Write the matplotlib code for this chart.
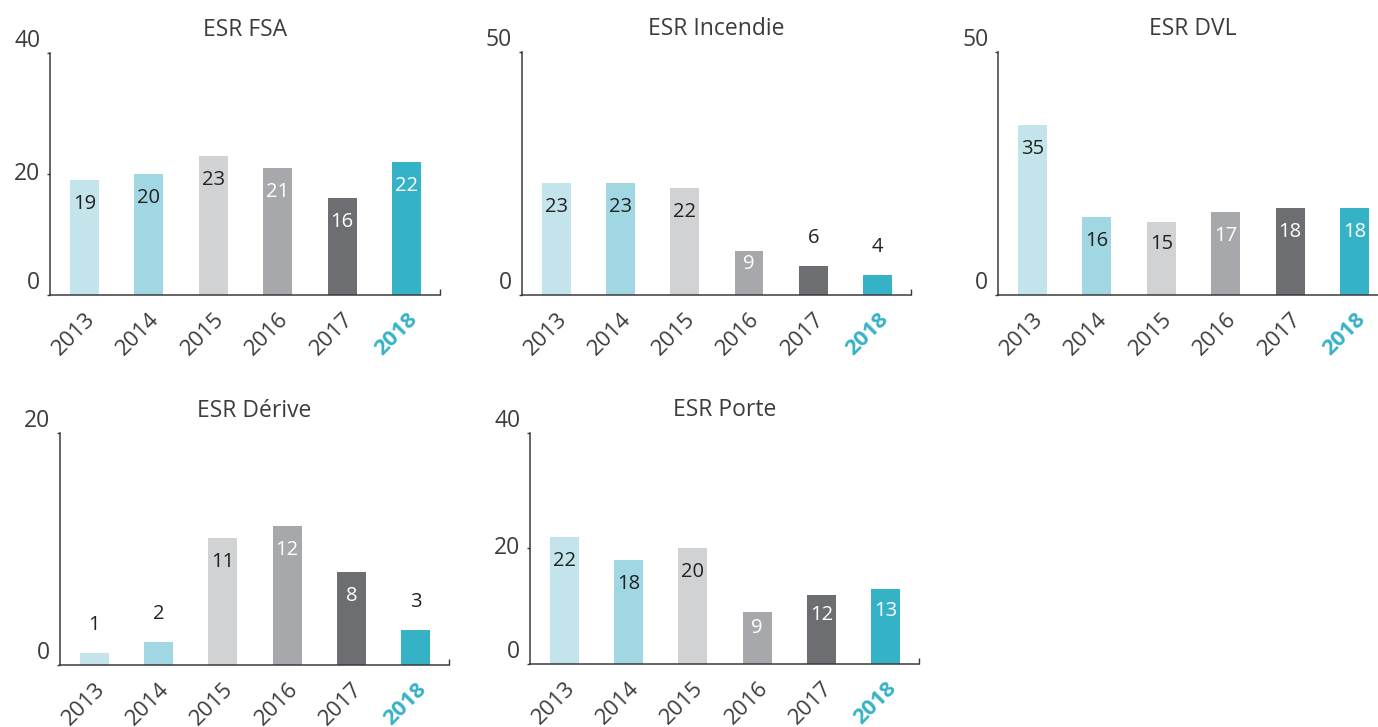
import matplotlib
matplotlib.use("Agg")
import matplotlib.pyplot as plt
from matplotlib import font_manager
from matplotlib.transforms import ScaledTranslation

# ---- data -------------------------------------------------------------
years = ["2013", "2014", "2015", "2016", "2017", "2018"]

titles = ["ESR FSA", "ESR Incendie", "ESR DVL", "ESR Dérive", "ESR Porte"]
fsa = [19, 20, 23, 21, 16, 22]
incendie = [23, 23, 22, 9, 6, 4]
dvl = [35, 16, 15, 17, 18, 18]
derive = [1, 2, 11, 12, 8, 3]
porte = [22, 18, 20, 9, 12, 13]

y_max = [40, 50, 50, 20, 40]
y_ticks = [[0, 20, 40], [0, 50], [0, 50], [0, 20], [0, 20, 40]]

# ---- style ------------------------------------------------------------
bar_colors = ["#c3e4eb", "#a1d7e2", "#d1d2d4", "#a7a8ab", "#6d6e71", "#36b2c7"]
inner_text = ["#222222", "#222222", "#222222", "white", "white", "white"]
highlight = "#36b2c7"
axis_color = "#3a3a3a"
text_color = "#3c3c3c"

available = {f.name for f in font_manager.fontManager.ttflist}
family = "Open Sans" if "Open Sans" in available else "DejaVu Sans"
plt.rcParams["font.family"] = family

W, H = 1378, 727
fig = plt.figure(figsize=(W / 100, H / 100), dpi=100, facecolor="white")

# panel boxes in pixels: left, top, right, bottom
boxes = [
    (50, 53, 440, 295),
    (521.7, 51.7, 911, 294.7),
    (998, 52, 1388, 295),
    (60, 433.3, 449, 665),
    (530, 432.7, 919, 664),
]
series = [fsa, incendie, dvl, derive, porte]
x_lim = (-0.535, 5.52)
positions = list(range(len(years)))

for title, values, ymax, yt, (l, t, r, b) in zip(titles, series, y_max, y_ticks, boxes):
    ax = fig.add_axes([l / W, 1 - b / H, (r - l) / W, (b - t) / H])
    ax.bar(positions, values, width=0.45, color=bar_colors, zorder=2)
    ax.set_xlim(*x_lim)
    ax.set_ylim(0, ymax)

    for side in ("top", "right"):
        ax.spines[side].set_visible(False)
    for side in ("left", "bottom"):
        ax.spines[side].set_color(axis_color)
        ax.spines[side].set_linewidth(1.1)

    # y axis ticks
    ax.set_yticks(yt)
    ax.set_yticklabels([str(v) for v in yt])
    ax.tick_params(axis="y", length=2, width=1.0, color=axis_color,
                   pad=5, labelsize=16.5, labelcolor=text_color)
    ylabels = ax.get_yticklabels()
    for k, lab in enumerate(ylabels):
        if k == 0 or k == len(ylabels) - 1:
            lab.set_verticalalignment("bottom")
        else:
            lab.set_verticalalignment("center")

    # x axis: no major ticks, a small inward tick at the axis end
    ax.set_xticks([])
    ax.set_xticks([x_lim[1]], minor=True)
    ax.tick_params(axis="x", which="minor", direction="in", length=4,
                   width=1.0, color=axis_color, labelbottom=False)

    # rotated year labels
    shift = ScaledTranslation(-10.5 / 100, -39 / 100, fig.dpi_scale_trans)
    for i, yr in enumerate(years):
        last = i == len(years) - 1
        ax.text(i, 0, yr, transform=ax.get_xaxis_transform() + shift,
                rotation=45, rotation_mode="anchor", ha="center", va="center",
                fontsize=16, color=highlight if last else text_color,
                fontweight="bold" if last else "normal", clip_on=False)

    # value labels
    px_per_unit = (b - t) / ymax
    for i, v in enumerate(values):
        h_px = v * px_per_unit
        if h_px > 40:
            off = -min(24, 0.3 * h_px)
            col = inner_text[i]
        else:
            off = 28
            col = "#222222"
        ax.annotate(str(v), xy=(i, v), xytext=(0, off), textcoords="offset pixels",
                    ha="center", va="center", fontsize=14.5, color=col, zorder=3)

    ax.set_title(title, fontsize=16.5, color=text_color, pad=12)

fig.savefig("out.png", dpi=100, facecolor="white")
